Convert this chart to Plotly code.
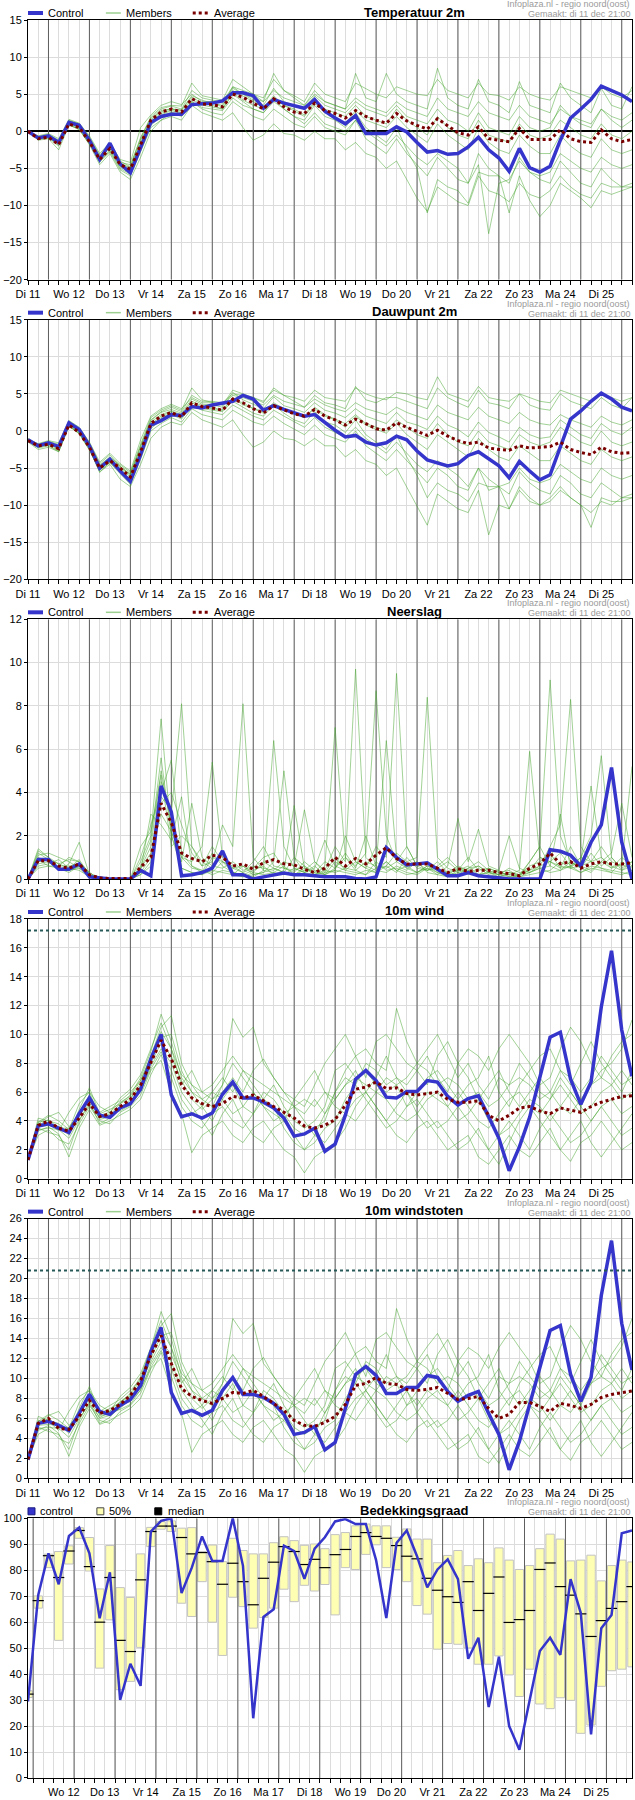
import plotly.graph_objects as go

# ---------------- time axis (6-hourly steps from Di 11 12:00) ----------------
steps = list(range(60))
day_labels = ["Di 11", "Wo 12", "Do 13", "Vr 14", "Za 15", "Zo 16", "Ma 17", "Di 18",
              "Wo 19", "Do 20", "Vr 21", "Za 22", "Zo 23", "Ma 24", "Di 25"]
label_pos = [0, 4, 8, 12, 16, 20, 24, 28, 32, 36, 40, 44, 48, 52, 56]
day_lines = [2, 6, 10, 14, 18, 22, 26, 30, 34, 38, 42, 46, 50, 54, 58]
cc_labels = ["Wo 12", "Do 13", "Vr 14", "Za 15", "Zo 16", "Ma 17", "Di 18",
             "Wo 19", "Do 20", "Vr 21", "Za 22", "Zo 23", "Ma 24", "Di 25"]
cc_label_pos = [3.5, 7.5, 11.5, 15.5, 19.5, 23.5, 27.5, 31.5, 35.5, 39.5, 43.5, 47.5, 51.5, 55.5]
cc_day_lines = [0.5, 4.5, 8.5, 12.5, 16.5, 20.5, 24.5, 28.5, 32.5, 36.5, 40.5, 44.5, 48.5, 52.5, 56.5]

# ---------------- Temperatuur 2m ----------------
temp_control = [0.0, -0.9, -0.6, -1.5, 1.2, 0.8, -1.2, -3.8, -1.6, -4.4, -5.6, -2.3, 1.2, 2.0, 2.3, 2.3, 3.6, 3.7, 3.8, 4.1,
                5.2, 5.2, 4.8, 3.1, 4.3, 3.8, 3.5, 3.1, 4.3, 2.7, 1.8, 1.0, 2.1, -0.3, -0.3, -0.3, 0.6, -0.1, -1.5, -2.8,
                -2.6, -3.1, -3.0, -2.1, -0.8, -2.5, -3.6, -5.4, -2.3, -4.9, -5.5, -4.7, -1.2, 1.8, 3.0, 4.3, 6.1, 5.5, 4.9, 4.0]
temp_average = [0.0, -1.0, -0.8, -1.8, 1.0, 0.5, -1.4, -3.8, -2.3, -4.5, -5.1, -1.8, 1.5, 2.6, 3.0, 2.6, 4.4, 3.7, 3.6, 3.3,
                5.0, 4.6, 3.8, 3.0, 4.4, 3.3, 2.6, 2.4, 3.8, 2.8, 2.4, 1.8, 2.8, 2.0, 1.5, 1.1, 2.4, 1.4, 0.8, 0.3,
                1.7, 0.7, -0.2, -0.5, 0.6, -1.0, -1.2, -1.4, 0.4, -1.1, -1.1, -1.1, 0.2, -1.0, -1.4, -1.5, 0.2, -1.0, -1.4, -1.1]
temp_m01 = [0, -0.7, -0.4, -1.2, 1.5, 1.0, -0.8, -3.2, -1.8, -4.0, -4.8, -0.8, 1.8, 3.0, 3.4, 3.0, 5.5, 4.5, 4.2, 4.0,
            6.0, 5.5, 5.0, 4.5, 7.0, 5.5, 4.8, 4.0, 6.5, 5.0, 4.5, 4.0, 6.5, 5.8, 5.0, 4.5, 6.0, 5.5, 5.0, 4.8,
            7.0, 5.5, 5.0, 4.5, 6.5, 5.0, 4.8, 4.2, 6.0, 5.0, 4.5, 4.2, 6.0, 5.5, 5.0, 4.5, 6.0, 5.0, 4.5, 5.5]
temp_m02 = [0, -1.2, -1.0, -2.5, 0.8, 0.3, -1.8, -4.5, -3.0, -5.5, -6.5, -3.5, 0.0, 1.5, 2.0, 1.5, 3.5, 2.5, 2.0, 1.5,
            2.5, 0.5, -1.2, -0.5, 1.0, -0.3, -0.5, -1.2, 0.0, -1.0, -1.0, -2.5, -1.5, -3.0, -3.5, -5.0, -4.0, -6.5, -9.0, -10.8,
            -7.5, -8.5, -9.5, -10.0, -6.0, -8.0, -8.5, -9.5, -7.0, -8.5, -9.0, -8.0, -6.0, -7.5, -8.5, -9.0, -7.0, -7.5, -7.5, -7.0]
temp_m03 = [0, -0.9, -0.7, -1.6, 1.2, 0.7, -1.3, -3.6, -2.2, -4.6, -5.2, -1.5, 1.5, 2.6, 3.1, 2.5, 4.3, 3.6, 3.8, 3.3,
            5.5, 4.8, 4.0, 3.2, 4.8, 3.5, 3.0, 2.2, 4.0, 3.0, 2.5, 2.0, 3.5, 2.0, 1.5, 1.0, 3.0, 1.5, 0.5, -0.5,
            2.0, 0.5, -0.5, -1.0, 1.5, -0.5, -1.0, -1.5, 1.0, -0.5, -1.0, -0.5, 1.5, 0.5, -0.5, -1.0, 1.0, -0.5, -1.0, 0.0]
temp_m04 = [0, -1.0, -0.8, -2.0, 0.9, 0.4, -1.6, -4.2, -2.6, -5.0, -5.8, -2.5, 0.8, 2.0, 2.6, 2.2, 4.0, 3.2, 3.0, 2.8,
            4.5, 3.5, 3.0, 2.5, 4.0, 3.0, 2.0, 1.0, 2.5, 1.0, 0.5, 0.0, 1.5, 0.0, -1.0, -2.0, -0.5, -2.0, -3.5, -4.5,
            -3.0, -4.0, -5.0, -7.0, -4.5, -13.8, -7.0, -6.5, -4.0, -5.5, -6.0, -5.5, -3.0, -4.0, -5.0, -5.5, -3.5, -4.5, -5.0, -4.5]
temp_m05 = [0, -0.8, -0.5, -1.4, 1.4, 0.9, -1.0, -3.4, -2.0, -4.2, -4.5, -1.0, 2.0, 3.2, 3.5, 3.4, 6.5, 4.8, 4.5, 4.2,
            7.0, 6.0, 5.0, 4.0, 7.8, 5.5, 4.5, 3.5, 5.5, 4.0, 3.5, 3.0, 7.8, 4.5, 4.0, 7.8, 5.0, 4.0, 3.5, 3.0,
            8.5, 4.5, 3.5, 3.0, 7.0, 4.0, 3.5, 2.5, 6.7, 3.5, 3.0, 2.5, 6.5, 4.5, 3.5, 2.5, 5.8, 3.5, 3.0, 6.0]
temp_m06 = [0, -1.1, -0.9, -1.9, 0.9, 0.2, -1.7, -4.0, -2.8, -5.2, -6.0, -2.8, 0.5, 1.5, 2.5, 2.0, 4.0, 3.0, 2.5, 2.2,
            4.0, 3.0, 2.0, 1.5, 3.0, 2.0, 1.0, 0.5, 2.0, 0.5, 0.0, -0.5, 1.5, -1.0, -2.0, -3.0, -1.0, -3.0, -4.5, -6.0,
            -3.5, -5.0, -6.5, -7.0, -3.0, -5.0, -6.0, -7.0, -3.5, -5.5, -6.5, -7.0, -4.0, -5.5, -7.0, -7.5, -5.0, -6.5, -7.5, -7.5]
temp_m07 = [0, -0.6, -0.3, -1.0, 1.6, 1.1, -0.6, -3.0, -1.5, -3.8, -4.2, 0.5, 2.2, 3.5, 4.0, 3.6, 5.0, 4.0, 4.0, 3.8,
            5.8, 5.0, 4.5, 4.0, 5.5, 4.5, 4.0, 3.5, 5.0, 4.0, 3.5, 3.0, 4.5, 3.5, 3.0, 2.5, 4.0, 3.0, 2.5, 2.0,
            4.5, 3.0, 2.5, 2.0, 4.0, 2.5, 2.0, 1.5, 3.5, 2.0, 1.5, 1.0, 3.0, 2.0, 1.5, 1.0, 3.0, 2.0, 1.5, 2.5]
temp_m08 = [0, -0.9, -0.6, -1.7, 1.1, 0.5, -1.5, -3.9, -2.5, -4.8, -5.5, -2.0, 1.0, 2.2, 2.8, 2.4, 3.8, 3.5, 3.3, 3.0,
            5.0, 4.0, 3.0, 2.5, 4.5, 3.0, 2.0, 1.5, 3.5, 2.0, 1.5, 0.5, 2.5, 0.5, -0.5, -1.5, 0.5, -2.5, -5.0, -11.0,
            -6.5, -7.5, -8.0, -9.7, -5.5, -6.0, -6.0, -11.0, -6.0, -9.3, -11.5, -10.0, -7.0, -8.0, -9.0, -10.3, -8.0, -8.5, -8.0, -7.5]
temp_m09 = [0, -1.0, -0.6, -1.5, 1.3, 0.8, -1.1, -3.7, -2.1, -4.4, -5.0, -1.8, 1.3, 2.4, 2.9, 2.8, 4.6, 3.8, 3.5, 3.0,
            5.2, 4.2, 3.5, 3.0, 4.5, 3.5, 2.8, 2.0, 3.8, 2.5, 2.0, 1.0, 2.8, 1.5, 1.0, 0.5, 2.0, 0.5, -0.5, -1.5,
            1.0, -0.5, -1.5, -2.5, 0.5, -1.5, -2.5, -3.0, -0.5, -2.0, -3.0, -3.0, -0.5, -2.0, -3.0, -3.5, -1.0, -2.5, -3.0, -2.5]
temp_m10 = [0, -0.8, -0.6, -1.3, 1.0, 0.6, -1.2, -3.5, -2.0, -4.3, -4.9, -1.2, 1.6, 2.8, 3.0, 2.9, 4.8, 4.2, 3.8, 3.5,
            6.0, 5.0, 4.2, 3.5, 5.8, 4.0, 3.5, 3.0, 4.8, 3.5, 3.0, 2.5, 4.0, 3.0, 2.5, 2.0, 3.5, 2.0, 1.5, 1.0,
            3.0, 1.5, 1.0, 0.0, 2.5, 0.5, 0.0, -0.5, 2.0, 0.5, 0.0, 0.5, 3.5, 2.0, 1.0, 0.5, 3.0, 1.5, 0.5, 1.5]

# ---------------- Dauwpunt 2m ----------------
dew_control = [-1.2, -2.0, -1.6, -2.1, 1.1, 0.2, -2.0, -5.0, -3.8, -5.4, -6.8, -3.2, 0.8, 1.4, 2.2, 2.1, 3.3, 3.1, 3.5, 3.8,
               4.0, 4.8, 4.3, 2.8, 3.4, 2.9, 2.5, 2.0, 2.2, 1.1, 0.1, -0.8, -0.6, -1.5, -1.9, -1.6, -0.7, -1.2, -2.7, -3.9,
               -4.3, -4.7, -4.4, -3.3, -2.8, -3.7, -4.7, -6.3, -4.1, -5.4, -6.6, -5.9, -2.2, 1.6, 2.7, 4.0, 5.1, 4.3, 3.2, 2.7]
dew_average = [-1.3, -2.0, -1.8, -2.4, 0.8, -0.2, -2.2, -5.0, -4.0, -5.0, -6.2, -2.8, 1.0, 2.0, 2.5, 1.9, 3.8, 3.3, 3.1, 2.8,
               4.3, 3.8, 3.0, 2.4, 3.4, 2.8, 2.3, 2.0, 2.9, 2.0, 1.5, 0.8, 1.6, 1.0, 0.3, 0.1, 1.1, 0.5, -0.1, -0.6,
               0.1, -0.7, -1.3, -1.7, -1.5, -2.3, -2.5, -2.6, -2.0, -2.3, -2.2, -2.1, -1.5, -2.5, -2.9, -3.2, -2.2, -2.8, -3.0, -2.9]
dew_m01 = [-1.0, -1.8, -1.4, -1.8, 1.3, 0.4, -1.6, -4.4, -3.2, -4.8, -5.8, -2.2, 1.5, 2.6, 3.2, 2.6, 4.8, 4.0, 4.0, 3.8,
           5.0, 4.8, 4.5, 4.0, 5.5, 4.8, 4.5, 4.0, 5.5, 4.5, 4.2, 4.0, 5.8, 5.0, 4.5, 4.2, 5.2, 5.0, 4.5, 4.2,
           7.3, 5.0, 4.5, 4.0, 6.0, 4.5, 4.2, 4.0, 5.0, 4.5, 4.0, 3.8, 5.5, 5.0, 4.5, 4.0, 5.0, 4.5, 4.0, 4.5]
dew_m02 = [-1.5, -2.5, -2.2, -2.8, 0.7, -0.3, -2.5, -5.5, -4.5, -6.5, -7.5, -4.5, -1.0, 0.5, 1.2, 0.8, 2.5, 1.5, 1.0, 0.5,
           1.5, -0.5, -2.2, -1.5, 0.0, -1.0, -1.2, -2.0, -1.0, -2.0, -2.0, -3.5, -2.5, -4.0, -4.5, -6.0, -5.0, -7.5, -10.0, -12.7,
           -8.5, -9.5, -10.5, -11.0, -8.0, -14.0, -10.0, -10.5, -8.0, -9.5, -10.0, -9.0, -7.5, -9.0, -10.0, -13.0, -9.0, -9.5, -9.5, -9.0]
dew_m03 = [-1.3, -2.0, -1.8, -2.4, 0.9, -0.1, -2.2, -5.0, -3.9, -5.0, -6.2, -2.8, 0.9, 2.0, 2.6, 1.9, 3.8, 3.2, 3.0, 2.8,
           4.2, 3.8, 3.0, 2.4, 3.6, 2.8, 2.3, 1.8, 3.2, 2.2, 1.6, 1.0, 2.2, 1.0, 0.5, 0.0, 1.5, 0.5, -0.5, -1.0,
           1.0, -0.5, -1.5, -2.0, 0.0, -1.5, -2.0, -2.5, -0.5, -1.5, -2.0, -1.5, 0.5, -0.5, -1.5, -2.0, 0.0, -1.5, -2.0, -1.5]
dew_m04 = [-1.4, -2.2, -1.9, -2.7, 0.6, -0.3, -2.4, -5.6, -4.2, -5.6, -7.0, -3.5, 0.3, 1.5, 2.2, 1.6, 3.4, 2.8, 2.5, 2.2,
           3.5, 2.8, 2.0, 1.5, 2.8, 2.0, 1.2, 0.5, 1.8, 0.5, -0.2, -0.8, 0.5, -1.0, -2.0, -3.0, -1.5, -3.0, -4.5, -5.5,
           -4.0, -5.0, -6.0, -7.5, -5.0, -8.0, -7.5, -7.0, -5.0, -6.5, -7.0, -6.5, -4.5, -5.5, -6.5, -7.0, -5.0, -6.0, -6.5, -6.0]
dew_m05 = [-1.1, -1.9, -1.5, -2.0, 1.2, 0.3, -1.8, -4.6, -3.5, -4.6, -5.6, -1.8, 1.8, 2.8, 3.4, 2.8, 5.8, 4.2, 3.8, 3.5,
           5.5, 5.0, 4.5, 3.8, 5.8, 4.8, 4.0, 3.2, 4.8, 3.8, 3.5, 3.0, 6.0, 4.2, 3.8, 4.5, 4.5, 4.0, 3.5, 3.0,
           5.8, 4.5, 3.8, 3.2, 5.5, 3.8, 3.5, 3.0, 5.0, 3.5, 3.0, 2.8, 5.0, 4.0, 3.5, 3.0, 4.5, 3.5, 3.0, 4.5]
dew_m06 = [-1.4, -2.3, -2.0, -2.8, 0.7, -0.4, -2.6, -5.3, -4.3, -5.8, -7.2, -3.8, 0.0, 1.0, 1.8, 1.2, 3.0, 2.2, 1.8, 1.5,
           2.8, 2.0, 1.2, 0.8, 2.0, 1.0, 0.2, -0.5, 0.8, -0.5, -1.0, -1.5, 0.0, -2.0, -3.0, -4.0, -2.5, -4.0, -5.5, -7.0,
           -5.0, -6.0, -7.5, -8.0, -5.0, -6.5, -7.5, -8.5, -5.5, -7.0, -8.0, -8.5, -6.0, -7.0, -8.5, -9.0, -7.0, -8.0, -9.0, -8.5]
dew_m07 = [-1.2, -1.7, -1.3, -1.6, 1.4, 0.5, -1.5, -4.2, -3.0, -4.4, -5.4, -1.2, 2.0, 3.0, 3.6, 3.0, 4.5, 3.8, 3.8, 3.5,
           4.8, 4.5, 4.0, 3.5, 4.8, 4.0, 3.6, 3.2, 4.3, 3.5, 3.0, 2.6, 3.8, 3.0, 2.6, 2.2, 3.2, 2.5, 2.0, 1.5,
           3.5, 2.5, 2.0, 1.5, 3.2, 2.0, 1.5, 1.0, 2.5, 1.5, 1.0, 0.8, 2.2, 1.5, 1.0, 0.5, 2.0, 1.2, 0.8, 1.5]
dew_m08 = [-1.3, -2.1, -1.7, -2.5, 0.8, -0.2, -2.3, -5.2, -4.0, -5.2, -6.5, -3.0, 0.6, 1.8, 2.4, 1.8, 3.3, 3.0, 2.8, 2.6,
           4.0, 3.2, 2.4, 2.0, 3.5, 2.4, 1.5, 1.0, 2.6, 1.2, 0.8, -0.2, 1.5, -0.5, -1.5, -2.5, -0.5, -3.5, -6.0, -9.0,
           -7.0, -8.0, -8.5, -9.5, -7.0, -7.5, -7.5, -10.5, -7.5, -9.0, -10.0, -9.5, -8.0, -9.0, -10.0, -11.0, -9.5, -10.0, -9.0, -9.0]
dew_m09 = [-1.2, -2.0, -1.6, -2.2, 1.0, 0.0, -2.0, -4.9, -3.8, -4.9, -6.0, -2.5, 1.2, 2.2, 2.7, 2.2, 4.0, 3.4, 3.2, 2.8,
           4.5, 3.5, 3.0, 2.6, 3.8, 3.0, 2.5, 1.8, 3.0, 2.0, 1.5, 0.5, 2.0, 0.8, 0.2, -0.3, 1.0, -0.5, -1.5, -2.5,
           -0.5, -1.5, -2.5, -3.5, -1.0, -2.5, -3.5, -4.0, -2.0, -3.0, -4.0, -4.0, -2.0, -3.0, -4.0, -4.5, -2.5, -3.5, -4.0, -3.5]
dew_m10 = [-1.1, -1.9, -1.6, -2.1, 1.1, 0.2, -1.9, -4.7, -3.6, -4.7, -5.9, -2.0, 1.4, 2.5, 2.9, 2.4, 4.3, 3.6, 3.5, 3.2,
           5.2, 4.2, 3.6, 3.0, 4.6, 3.4, 3.0, 2.5, 3.8, 2.8, 2.4, 1.8, 3.0, 2.0, 1.5, 1.0, 2.5, 1.2, 0.8, 0.2,
           2.0, 0.8, 0.2, -0.8, 1.2, -0.2, -0.8, -1.5, 0.5, -0.5, -1.0, -0.8, 1.5, 0.5, -0.5, -1.0, 1.0, 0.0, -0.5, 0.5]

# ---------------- Neerslag ----------------
rain_control = [0, 0.9, 0.9, 0.45, 0.45, 0.7, 0.1, 0.05, 0, 0, 0, 0.4, 0.15, 4.3, 3.1, 0.15, 0.2, 0.3, 0.5, 1.3,
                0.2, 0.2, 0.0, 0.1, 0.2, 0.28, 0.2, 0.2, 0.15, 0.1, 0.1, 0.1, 0.03, 0, 0.1, 1.45, 1.0, 0.65, 0.7, 0.75,
                0.45, 0.15, 0.15, 0.3, 0.15, 0.1, 0.03, 0, 0, 0, 0, 1.35, 1.28, 1.1, 0.6, 1.7, 2.5, 5.15, 1.7, 0]
rain_average = [0, 0.85, 0.85, 0.6, 0.5, 0.7, 0.2, 0.05, 0.02, 0.02, 0.02, 0.55, 1.0, 3.5, 2.6, 1.2, 0.95, 0.8, 1.1, 1.0,
                0.6, 0.7, 0.45, 0.75, 0.9, 0.7, 0.65, 0.45, 0.3, 0.5, 1.0, 0.6, 0.95, 0.7, 1.1, 1.45, 0.95, 0.7, 0.7, 0.7,
                0.5, 0.3, 0.48, 0.35, 0.4, 0.4, 0.3, 0.25, 0.15, 0.5, 0.7, 1.2, 0.7, 0.8, 0.5, 0.7, 0.8, 0.7, 0.7, 0.75]
rain_m01 = [0, 1.3, 1.0, 0.7, 0.5, 0.9, 0.2, 0, 0, 0, 0, 0.8, 2.0, 7.4, 2.0, 0.5, 0.3, 0.2, 1.0, 0.8,
            0.3, 0.2, 0.1, 0.4, 6.4, 1.5, 0.5, 0.3, 0.2, 0.6, 7.0, 1.0, 0.4, 0.2, 0.5, 0.8, 0.4, 0.6, 0.3, 0.5,
            0.3, 0.1, 0.4, 0.6, 0.2, 0.1, 0.1, 0.3, 0.2, 0.8, 1.5, 9.2, 2.0, 0.8, 0.5, 1.2, 0.6, 1.0, 0.4, 0.8]
rain_m02 = [0, 0.8, 0.9, 0.5, 0.4, 0.6, 0.1, 0, 0, 0, 0, 0.3, 1.0, 4.5, 3.0, 8.1, 1.5, 0.8, 0.5, 1.2,
            0.2, 0.1, 0.3, 0.8, 0.5, 0.3, 1.0, 0.6, 0.2, 0.4, 1.5, 0.8, 9.7, 1.0, 0.5, 0.6, 0.3, 1.0, 0.5, 0.4,
            0.8, 0.3, 0.2, 0.5, 0.6, 0.3, 0.1, 0.2, 0.4, 5.9, 1.0, 0.8, 0.5, 1.5, 0.6, 0.8, 1.0, 0.5, 0.7, 0.4]
rain_m03 = [0, 1.0, 0.8, 0.4, 0.7, 1.7, 0.2, 0.1, 0, 0, 0, 0.5, 1.5, 5.0, 2.5, 1.0, 0.8, 1.5, 5.4, 1.0,
            0.5, 0.3, 0.5, 1.0, 1.2, 0.5, 0.3, 0.8, 0.4, 0.2, 0.5, 1.0, 0.6, 1.2, 8.7, 2.0, 0.8, 0.5, 0.3, 0.6,
            0.5, 0.8, 0.4, 0.3, 0.2, 0.5, 0.3, 0.2, 0.1, 0.3, 0.6, 1.5, 2.5, 8.3, 1.5, 0.8, 0.5, 0.3, 0.8, 0.5]
rain_m04 = [0, 0.6, 0.7, 0.9, 0.5, 0.4, 0.1, 0, 0, 0, 0, 0.2, 0.8, 3.5, 4.0, 2.5, 1.2, 0.6, 0.8, 2.5,
            1.5, 8.1, 1.0, 0.4, 0.3, 0.6, 0.2, 0.4, 0.8, 0.3, 0.4, 2.0, 0.8, 0.5, 1.5, 1.0, 9.5, 1.5, 0.6, 0.8,
            0.4, 0.3, 0.6, 0.4, 0.2, 0.3, 0.4, 0.1, 0.2, 0.4, 1.0, 0.8, 0.6, 0.5, 1.0, 2.0, 5.7, 1.0, 0.5, 0.8]
rain_m05 = [0, 1.1, 1.2, 1.0, 0.8, 0.5, 0.3, 0, 0, 0, 0, 1.0, 2.5, 4.0, 5.5, 1.2, 0.6, 0.4, 0.3, 0.8,
            0.5, 0.6, 0.2, 0.3, 0.8, 5.0, 1.0, 0.3, 0.5, 1.8, 0.6, 0.4, 0.8, 0.5, 0.3, 0.6, 1.2, 0.8, 1.0, 8.4,
            1.0, 0.5, 0.3, 0.5, 0.8, 0.4, 0.2, 0.3, 0.2, 0.6, 0.8, 1.2, 0.5, 0.6, 1.0, 0.8, 1.5, 0.8, 0.6, 5.2]
rain_m06 = [0, 0.9, 0.6, 0.6, 1.0, 0.8, 0.2, 0, 0, 0, 0, 0.6, 1.8, 5.6, 2.0, 0.8, 3.5, 1.0, 0.6, 0.5,
            0.8, 0.4, 0.6, 0.5, 0.4, 0.8, 0.6, 3.2, 0.8, 0.4, 0.3, 0.5, 0.4, 0.8, 0.6, 6.4, 1.0, 0.5, 0.8, 0.4,
            0.6, 1.0, 0.5, 0.4, 0.6, 0.3, 0.2, 0.5, 0.3, 0.4, 0.6, 0.8, 1.2, 0.6, 0.8, 4.3, 1.0, 0.6, 0.4, 0.6]
rain_m07 = [0, 1.4, 1.0, 0.5, 0.3, 0.6, 0.1, 0, 0, 0, 0, 0.4, 3.0, 2.5, 1.8, 3.8, 0.6, 0.3, 1.2, 0.6,
            0.3, 0.2, 0.4, 0.6, 0.2, 0.4, 3.4, 0.5, 0.3, 0.2, 0.8, 0.5, 1.0, 0.6, 0.4, 0.3, 0.6, 0.4, 0.8, 0.3,
            0.2, 0.6, 2.8, 0.8, 2.3, 0.6, 0.4, 2.0, 0.5, 0.3, 0.5, 0.6, 0.4, 0.8, 0.5, 0.3, 0.8, 1.2, 3.5, 1.0]
rain_m08 = [0, 0.7, 0.8, 0.6, 0.6, 0.7, 0.1, 0, 0, 0, 0, 0.5, 1.2, 3.0, 2.2, 1.0, 0.5, 0.4, 0.2, 0.4,
            0.3, 0.1, 0.2, 0.3, 0.5, 0.3, 0.2, 0.5, 0.2, 0.3, 1.0, 0.4, 0.3, 0.2, 0.8, 0.4, 0.5, 0.3, 0.2, 0.5,
            0.2, 0.1, 0.3, 0.2, 0.5, 0.2, 0.1, 0.0, 0.2, 0.3, 0.5, 0.3, 0.4, 0.6, 0.3, 0.5, 0.4, 0.3, 0.2, 0.4]
rain_m09 = [0, 1.2, 0.9, 0.7, 0.9, 0.8, 0.3, 0, 0, 0, 0, 1.5, 2.2, 4.8, 1.5, 2.0, 1.5, 0.6, 1.5, 0.8,
            0.6, 0.3, 0.8, 1.5, 0.6, 0.5, 0.4, 0.6, 0.3, 0.8, 0.5, 1.2, 0.5, 2.0, 0.6, 0.5, 0.8, 1.5, 0.6, 0.4,
            0.5, 0.3, 0.4, 1.0, 0.4, 0.5, 0.3, 0.4, 0.1, 0.8, 1.5, 0.6, 3.0, 0.5, 0.6, 0.4, 0.8, 0.5, 1.0, 0.6]
rain_m10 = [0, 0.5, 0.6, 0.5, 0.4, 0.5, 0.1, 0, 0, 0, 0, 0.2, 0.6, 3.8, 3.2, 0.5, 0.3, 0.2, 0.4, 0.3,
            0.2, 0.6, 0.3, 0.2, 0.3, 0.2, 0.5, 0.3, 0.6, 0.2, 0.4, 0.3, 0.2, 0.4, 0.3, 0.8, 0.4, 0.2, 0.3, 0.6,
            0.3, 0.2, 0.5, 0.3, 0.2, 0.3, 0.2, 0.1, 0.1, 0.2, 0.3, 0.4, 0.8, 0.5, 0.3, 0.6, 0.5, 0.4, 0.3, 0.2]

# ---------------- 10m wind ----------------
wind_control = [1.3, 3.65, 3.8, 3.5, 3.2, 4.5, 5.6, 4.4, 4.25, 4.9, 5.2, 6.2, 8.3, 10.0, 5.8, 4.3, 4.5, 4.2, 4.55, 5.85,
                6.7, 5.6, 5.6, 5.3, 4.9, 4.2, 2.95, 3.1, 3.5, 1.9, 2.4, 4.4, 6.9, 7.5, 6.8, 5.65, 5.6, 6.05, 6.05, 6.8,
                6.7, 5.7, 5.1, 5.55, 5.75, 4.3, 2.8, 0.55, 2.2, 4.25, 6.95, 9.8, 10.15, 6.9, 5.15, 6.7, 11.9, 15.8, 10.3, 7.1]
wind_average = [1.3, 3.7, 4.0, 3.5, 3.3, 4.2, 5.2, 4.3, 4.5, 5.0, 5.5, 6.5, 8.0, 9.6, 8.3, 6.5, 5.6, 5.2, 5.0, 5.2,
                5.7, 5.6, 5.8, 5.4, 5.0, 4.6, 4.2, 3.65, 3.5, 3.7, 4.1, 5.1, 6.2, 6.35, 6.7, 6.25, 6.3, 5.9, 5.8, 5.9,
                6.0, 5.5, 5.3, 5.3, 5.4, 4.4, 4.0, 4.4, 4.9, 5.0, 4.7, 4.5, 4.9, 4.75, 4.6, 5.0, 5.3, 5.5, 5.7, 5.75]
wind_m01 = [1.3, 4.2, 4.0, 3.8, 3.0, 4.8, 6.3, 4.5, 4.8, 5.2, 5.8, 7.0, 8.8, 11.4, 9.5, 7.0, 6.0, 5.5, 5.0, 6.5,
            11.1, 9.8, 10.5, 8.0, 7.0, 6.0, 5.0, 4.5, 5.5, 4.5, 6.0, 7.5, 8.5, 9.0, 8.0, 7.5, 11.8, 9.5, 8.0, 9.0,
            10.0, 8.5, 7.0, 8.0, 6.5, 5.5, 7.0, 6.5, 8.0, 7.0, 6.0, 5.5, 7.0, 6.0, 5.0, 6.5, 7.5, 8.0, 9.0, 11.0]
wind_m02 = [1.3, 3.0, 3.4, 2.7, 2.4, 3.8, 5.0, 4.0, 3.8, 4.6, 5.0, 5.8, 7.5, 8.2, 6.0, 4.5, 1.8, 3.0, 3.5, 4.0,
            3.0, 2.5, 3.5, 4.0, 3.0, 2.0, 1.5, 0.4, 1.5, 2.0, 2.5, 3.5, 5.0, 6.0, 5.0, 4.0, 3.0, 2.5, 3.5, 4.0,
            3.0, 2.0, 2.5, 3.0, 1.5, 1.0, 2.0, 3.0, 2.0, 1.5, 2.5, 3.5, 2.0, 1.2, 2.5, 3.0, 4.0, 3.0, 2.0, 2.5]
wind_m03 = [1.3, 3.8, 4.3, 4.6, 3.6, 4.4, 5.6, 4.6, 5.0, 5.4, 6.0, 6.8, 8.5, 10.5, 11.3, 8.0, 6.5, 5.5, 6.0, 7.0,
            6.0, 7.5, 6.5, 5.5, 6.5, 5.0, 4.0, 3.5, 4.0, 5.0, 7.5, 8.0, 7.0, 6.5, 6.0, 7.0, 6.5, 5.0, 6.0, 7.0,
            7.5, 6.5, 5.5, 6.5, 7.0, 8.5, 6.0, 5.0, 6.5, 7.5, 8.5, 9.0, 7.5, 6.5, 8.0, 9.5, 8.0, 7.0, 6.0, 7.5]
wind_m04 = [1.3, 3.5, 3.2, 3.0, 2.0, 4.0, 5.3, 3.8, 4.2, 5.0, 5.3, 6.0, 7.8, 9.0, 8.0, 6.0, 5.0, 4.0, 3.0, 4.5,
            5.5, 4.0, 3.0, 2.5, 3.5, 4.0, 3.0, 2.0, 3.0, 4.5, 5.5, 6.5, 7.5, 6.0, 5.0, 4.0, 5.0, 6.0, 4.5, 3.5,
            4.0, 3.0, 2.0, 2.5, 3.5, 2.0, 1.0, 2.5, 4.0, 5.0, 4.0, 3.0, 2.0, 3.0, 4.0, 2.5, 1.5, 2.5, 3.5, 4.5]
wind_m05 = [1.3, 4.0, 3.9, 3.3, 4.6, 5.6, 6.0, 5.0, 4.6, 5.6, 6.2, 7.2, 9.0, 10.8, 9.0, 6.5, 7.5, 6.0, 5.5, 6.0,
            7.0, 6.0, 7.5, 8.3, 7.0, 6.0, 5.5, 5.0, 6.5, 8.0, 9.0, 10.0, 8.5, 7.0, 9.5, 10.0, 9.0, 8.0, 7.5, 8.5,
            7.0, 6.0, 8.0, 9.0, 8.5, 7.5, 9.0, 10.0, 9.0, 8.0, 6.5, 7.0, 9.0, 10.5, 9.5, 8.0, 7.0, 8.5, 9.5, 10.0]
wind_m06 = [1.3, 3.3, 3.6, 3.1, 1.5, 3.5, 4.8, 3.7, 4.0, 4.4, 4.8, 5.5, 7.2, 8.6, 7.0, 5.0, 4.0, 3.5, 4.5, 5.0,
            4.0, 3.5, 4.5, 5.5, 5.0, 3.5, 2.5, 2.0, 2.5, 3.5, 4.0, 5.5, 6.5, 5.5, 4.5, 3.5, 4.0, 5.0, 5.5, 4.5,
            3.5, 4.0, 5.0, 4.0, 3.0, 2.0, 3.0, 4.0, 3.0, 2.0, 3.5, 4.5, 3.5, 2.5, 3.0, 4.0, 5.0, 4.0, 3.0, 3.5]
wind_m07 = [1.3, 3.9, 4.4, 4.0, 3.4, 5.2, 6.0, 4.3, 4.4, 5.2, 5.6, 6.4, 8.2, 9.8, 10.0, 7.5, 6.0, 5.0, 4.0, 5.5,
            6.5, 5.0, 4.5, 6.0, 5.5, 4.5, 3.5, 3.0, 3.5, 4.0, 6.0, 7.0, 6.5, 8.0, 7.5, 6.5, 7.0, 6.0, 5.0, 6.0,
            5.5, 5.0, 6.0, 5.0, 4.0, 3.5, 4.5, 5.5, 6.0, 5.0, 4.5, 5.5, 6.5, 5.5, 4.5, 5.0, 6.0, 6.5, 5.5, 6.0]
wind_m08 = [1.3, 3.6, 3.7, 3.6, 3.2, 4.3, 5.5, 4.1, 4.3, 4.8, 5.5, 6.6, 8.0, 9.4, 8.5, 6.8, 5.5, 4.8, 5.5, 6.5,
            8.0, 7.0, 6.0, 5.0, 4.5, 4.0, 5.5, 6.5, 7.5, 6.0, 5.0, 4.5, 5.5, 6.0, 7.0, 8.5, 7.0, 6.5, 7.5, 6.5,
            8.5, 9.5, 8.0, 7.0, 5.5, 6.5, 7.5, 6.0, 5.0, 6.0, 7.0, 6.0, 5.0, 4.5, 5.5, 6.5, 7.0, 6.5, 7.5, 6.5]
wind_m09 = [1.3, 3.4, 3.5, 3.4, 2.8, 4.1, 5.1, 4.2, 4.5, 4.7, 5.1, 6.1, 7.6, 8.8, 7.5, 5.5, 4.5, 5.0, 6.0, 5.5,
            4.5, 5.0, 6.0, 5.0, 4.0, 4.5, 5.0, 4.0, 3.0, 2.5, 3.5, 4.5, 4.0, 5.0, 6.0, 5.5, 4.5, 4.0, 4.5, 5.5,
            6.0, 5.0, 4.0, 4.5, 5.5, 4.0, 3.0, 3.5, 4.5, 5.5, 5.0, 4.0, 5.0, 6.0, 5.0, 4.0, 5.0, 5.5, 4.5, 5.0]
wind_m10 = [1.3, 3.7, 4.1, 3.5, 3.5, 4.5, 5.8, 4.4, 4.6, 5.3, 5.7, 6.8, 8.4, 10.2, 9.0, 7.2, 6.5, 6.0, 6.5, 7.5,
            8.5, 7.5, 7.0, 6.5, 6.0, 5.5, 5.0, 5.5, 5.0, 6.0, 5.5, 6.5, 7.0, 7.5, 6.5, 6.0, 6.5, 7.0, 8.0, 7.5,
            6.5, 7.0, 6.5, 5.5, 6.0, 5.0, 5.5, 6.5, 7.0, 6.5, 5.5, 6.0, 7.5, 7.0, 6.0, 7.0, 8.5, 7.5, 6.5, 7.0]

# ---------------- 10m windstoten ----------------
gust_control = [1.85, 5.5, 5.7, 5.3, 4.8, 6.5, 8.4, 6.7, 6.4, 7.3, 7.9, 9.3, 12.7, 15.1, 8.6, 6.5, 6.8, 6.3, 6.8, 8.8,
                10.1, 8.4, 8.4, 8.1, 7.5, 6.4, 4.4, 4.6, 5.2, 2.85, 3.6, 7.0, 10.4, 11.2, 10.3, 8.5, 8.5, 9.1, 9.1, 10.3,
                10.1, 8.7, 7.7, 8.3, 8.7, 6.5, 4.4, 0.85, 3.7, 7.4, 11.0, 14.8, 15.3, 10.4, 7.7, 10.1, 18.3, 23.8, 15.5, 10.85]
gust_average = [1.9, 5.5, 6.0, 5.0, 4.9, 6.2, 7.8, 6.5, 6.8, 7.4, 8.3, 9.8, 12.3, 14.3, 11.5, 9.0, 8.2, 7.8, 7.5, 8.0,
                8.6, 8.5, 8.8, 8.2, 7.5, 6.8, 5.8, 5.3, 5.2, 5.6, 6.2, 7.4, 9.3, 9.5, 10.1, 9.5, 9.4, 8.9, 8.8, 8.9,
                9.1, 8.5, 7.9, 8.0, 8.2, 7.0, 6.0, 6.4, 7.6, 7.6, 7.2, 6.7, 7.5, 7.3, 7.0, 7.4, 8.1, 8.4, 8.6, 8.75]
gust_m01 = [1.9, 6.2, 5.8, 5.5, 4.5, 7.0, 9.2, 6.5, 7.0, 7.6, 8.5, 10.2, 13.0, 16.7, 14.0, 10.2, 8.8, 8.0, 7.3, 9.5,
            16.0, 14.5, 15.5, 11.5, 10.2, 8.8, 7.3, 6.5, 8.0, 6.5, 8.8, 11.0, 12.5, 13.2, 11.7, 11.0, 17.0, 14.0, 11.7, 13.2,
            14.5, 12.5, 10.2, 11.7, 9.5, 8.0, 10.2, 9.5, 11.7, 10.2, 8.8, 8.0, 10.2, 8.8, 7.3, 9.5, 11.0, 11.7, 13.2, 16.0]
gust_m02 = [1.9, 4.4, 5.0, 4.0, 3.5, 5.5, 7.3, 5.8, 5.5, 6.7, 7.3, 8.5, 11.0, 12.0, 8.8, 6.5, 2.6, 4.4, 5.1, 5.8,
            4.4, 3.6, 5.1, 5.8, 4.4, 2.9, 2.2, 0.6, 2.2, 2.9, 3.6, 5.1, 7.3, 8.8, 7.3, 5.8, 4.4, 3.6, 5.1, 5.8,
            4.4, 2.9, 3.6, 4.4, 2.2, 1.5, 2.9, 4.4, 2.9, 2.2, 3.6, 5.1, 2.9, 1.8, 3.6, 4.4, 5.8, 4.4, 2.9, 3.6]
gust_m03 = [1.9, 5.5, 6.3, 6.7, 5.3, 6.4, 8.2, 6.7, 7.3, 7.9, 8.8, 9.9, 12.4, 15.3, 16.5, 11.7, 9.5, 8.0, 8.8, 10.2,
            8.8, 11.0, 9.5, 8.0, 9.5, 7.3, 5.8, 5.1, 5.8, 7.3, 11.0, 11.7, 10.2, 9.5, 8.8, 10.2, 9.5, 7.3, 8.8, 10.2,
            11.0, 9.5, 8.0, 9.5, 10.2, 12.4, 8.8, 7.3, 9.5, 11.0, 12.4, 13.2, 11.0, 9.5, 11.7, 13.9, 11.7, 10.2, 8.8, 11.0]
gust_m04 = [1.9, 5.1, 4.7, 4.4, 2.9, 5.8, 7.7, 5.5, 6.1, 7.3, 7.7, 8.8, 11.4, 13.1, 11.7, 8.8, 7.3, 5.8, 4.4, 6.6,
            8.0, 5.8, 4.4, 3.6, 5.1, 5.8, 4.4, 2.9, 4.4, 6.6, 8.0, 9.5, 11.0, 8.8, 7.3, 5.8, 7.3, 8.8, 6.6, 5.1,
            5.8, 4.4, 2.9, 3.6, 5.1, 2.9, 1.5, 3.6, 5.8, 7.3, 5.8, 4.4, 2.9, 4.4, 5.8, 3.6, 2.2, 3.6, 5.1, 6.6]
gust_m05 = [1.9, 5.8, 5.7, 4.8, 6.7, 8.2, 8.8, 7.3, 6.7, 8.2, 9.1, 10.5, 13.1, 15.8, 13.1, 9.5, 11.0, 8.8, 8.0, 8.8,
            10.2, 8.8, 11.0, 12.1, 10.2, 8.8, 8.0, 7.3, 9.5, 11.7, 13.1, 14.6, 12.4, 10.2, 13.9, 14.6, 13.1, 11.7, 11.0, 12.4,
            10.2, 8.8, 11.7, 13.1, 12.4, 11.0, 13.1, 14.6, 13.1, 11.7, 9.5, 10.2, 13.1, 15.3, 13.9, 11.7, 10.2, 12.4, 13.9, 14.6]
gust_m06 = [1.9, 4.8, 5.3, 4.5, 2.2, 5.1, 7.0, 5.4, 5.8, 6.4, 7.0, 8.0, 10.5, 12.6, 10.2, 7.3, 5.8, 5.1, 6.6, 7.3,
            5.8, 5.1, 6.6, 8.0, 7.3, 5.1, 3.6, 2.9, 3.6, 5.1, 5.8, 8.0, 9.5, 8.0, 6.6, 5.1, 5.8, 7.3, 8.0, 6.6,
            5.1, 5.8, 7.3, 5.8, 4.4, 2.9, 4.4, 5.8, 4.4, 2.9, 5.1, 6.6, 5.1, 3.6, 4.4, 5.8, 7.3, 5.8, 4.4, 5.1]
gust_m07 = [1.9, 5.7, 6.4, 5.8, 5.0, 7.6, 8.8, 6.3, 6.4, 7.6, 8.2, 9.3, 12.0, 14.3, 14.6, 11.0, 8.8, 7.3, 5.8, 8.0,
            9.5, 7.3, 6.6, 8.8, 8.0, 6.6, 5.1, 4.4, 5.1, 5.8, 8.8, 10.2, 9.5, 11.7, 11.0, 9.5, 10.2, 8.8, 7.3, 8.8,
            8.0, 7.3, 8.8, 7.3, 5.8, 5.1, 6.6, 8.0, 8.8, 7.3, 6.6, 8.0, 9.5, 8.0, 6.6, 7.3, 8.8, 9.5, 8.0, 8.8]
gust_m08 = [1.9, 5.3, 5.4, 5.3, 4.7, 6.3, 8.0, 6.0, 6.3, 7.0, 8.0, 9.6, 11.7, 13.7, 12.4, 9.9, 8.0, 7.0, 8.0, 9.5,
            11.7, 10.2, 8.8, 7.3, 6.6, 5.8, 8.0, 9.5, 11.0, 8.8, 7.3, 6.6, 8.0, 8.8, 10.2, 12.4, 10.2, 9.5, 11.0, 9.5,
            12.4, 13.9, 11.7, 10.2, 8.0, 9.5, 11.0, 8.8, 7.3, 8.8, 10.2, 8.8, 7.3, 6.6, 8.0, 9.5, 10.2, 9.5, 11.0, 9.5]
gust_m09 = [1.9, 5.0, 5.1, 5.0, 4.1, 6.0, 7.4, 6.1, 6.6, 6.9, 7.4, 8.9, 11.1, 12.8, 11.0, 8.0, 6.6, 7.3, 8.8, 8.0,
            6.6, 7.3, 8.8, 7.3, 5.8, 6.6, 7.3, 5.8, 4.4, 3.6, 5.1, 6.6, 5.8, 7.3, 8.8, 8.0, 6.6, 5.8, 6.6, 8.0,
            8.8, 7.3, 5.8, 6.6, 8.0, 5.8, 4.4, 5.1, 6.6, 8.0, 7.3, 5.8, 7.3, 8.8, 7.3, 5.8, 7.3, 8.0, 6.6, 7.3]
gust_m10 = [1.9, 5.4, 6.0, 5.1, 5.1, 6.6, 8.5, 6.4, 6.7, 7.7, 8.3, 9.9, 12.3, 14.9, 13.1, 10.5, 9.5, 8.8, 9.5, 11.0,
            12.4, 11.0, 10.2, 9.5, 8.8, 8.0, 7.3, 8.0, 7.3, 8.8, 8.0, 9.5, 10.2, 11.0, 9.5, 8.8, 9.5, 10.2, 11.7, 11.0,
            9.5, 10.2, 9.5, 8.0, 8.8, 7.3, 8.0, 9.5, 10.2, 9.5, 8.0, 8.8, 11.0, 10.2, 8.8, 10.2, 12.4, 11.0, 9.5, 10.2]

# threshold lines (wind / gust)
wind_threshold = 17.2
gust_threshold = 20.8

# ---------------- Bedekkingsgraad ----------------
cloud_control = [29.5, 70.5, 86.5, 74.6, 93.2, 96.4, 86.5, 61.5, 79.2, 30.1, 44.0, 35.5, 94.9, 99.0, 100.0, 71.2, 81.0, 93.0, 83.6, 83.6,
                 100.0, 81.7, 23.0, 62.0, 65.0, 89.5, 87.4, 76.7, 88.3, 92.7, 98.8, 99.7, 97.8, 97.8, 83.9, 61.6, 90.5, 95.3, 85.4, 73.4,
                 80.3, 84.2, 76.6, 45.9, 54.0, 27.3, 46.7, 20.0, 10.9, 29.9, 48.9, 54.0, 47.4, 76.6, 63.5, 16.8, 57.7, 62.8, 94.2, 95.3]
cloud_p75 = [33.6, 70.1, 86.2, 87.2, 89.4, 96.4, 92.6, 72.8, 89.5, 73.3, 69.5, 86.3, 96.5, 98.7, 99.0, 96.2, 96.4, 87.2, 89.7, 83.3,
             92.3, 87.6, 86.3, 86.3, 90.6, 92.9, 91.4, 89.6, 90.1, 88.3, 93.7, 94.5, 97.1, 97.8, 97.1, 97.1, 92.7, 95.9, 92.0, 92.0,
             82.9, 85.7, 87.6, 81.8, 84.4, 82.9, 88.6, 83.9, 80.3, 81.8, 88.3, 93.9, 92.0, 83.6, 83.9, 85.8, 75.9, 81.8, 83.9, 83.2]
cloud_p25 = [31.0, 65.4, 81.0, 53.0, 82.4, 92.3, 79.7, 42.3, 60.9, 34.0, 37.2, 50.3, 89.1, 95.8, 94.9, 67.3, 62.2, 75.6, 60.0, 47.2,
             69.6, 66.0, 57.7, 61.8, 65.4, 72.7, 67.9, 74.2, 72.0, 74.5, 62.8, 81.0, 80.3, 86.1, 89.8, 81.0, 80.3, 75.6, 66.4, 63.1,
             49.6, 51.8, 51.5, 50.1, 43.8, 43.8, 47.0, 39.7, 31.4, 41.9, 28.5, 26.7, 30.9, 29.9, 17.2, 20.4, 35.3, 41.3, 41.9, 42.8]
cloud_median = [32.3, 68.3, 85.6, 77.2, 87.4, 95.3, 81.4, 60.0, 77.2, 53.0, 48.7, 76.3, 94.9, 97.0, 97.0, 92.6, 86.3, 86.8, 83.3, 74.6,
                82.7, 75.6, 66.7, 76.9, 83.1, 89.1, 87.2, 82.2, 84.2, 81.0, 86.0, 88.0, 93.0, 94.5, 93.0, 92.3, 89.5, 85.4, 84.4, 76.9,
                72.3, 69.8, 67.6, 75.6, 64.5, 71.1, 77.4, 59.9, 61.0, 64.5, 80.3, 82.8, 73.7, 70.4, 63.2, 54.5, 60.6, 65.3, 67.9, 73.7]

# ---------------- styling / layout ----------------
W, H = 635, 1800
ML, MR, MT, MB = 28, 2, 20, 20
PW, PH = W - ML - MR, H - MT - MB
FONT = "Liberation Sans, Arial, sans-serif"
CTRL_COLOR = "#3535cc"
AVG_COLOR = "#7a0000"
MEMBER_COLOR = "rgba(70,165,45,0.5)"
LIGHT_GRID = "#dcdcdc"
DAY_LINE = "#5e5e5e"
panel_tops = [20, 320, 620, 920, 1220, 1520]
PANEL_H = 260


def fx(px):
    return (px - ML) / PW


def fy(py):
    return 1 - (py - MT) / PH


panels = [
    dict(title="Temperatuur 2m", control=temp_control, average=temp_average,
         members=[temp_m01, temp_m02, temp_m03, temp_m04, temp_m05, temp_m06, temp_m07, temp_m08, temp_m09, temp_m10],
         yrange=[-20, 15], dtick=5, zero=True, threshold=None),
    dict(title="Dauwpunt 2m", control=dew_control, average=dew_average,
         members=[dew_m01, dew_m02, dew_m03, dew_m04, dew_m05, dew_m06, dew_m07, dew_m08, dew_m09, dew_m10],
         yrange=[-20, 15], dtick=5, zero=False, threshold=None),
    dict(title="Neerslag", control=rain_control, average=rain_average,
         members=[rain_m01, rain_m02, rain_m03, rain_m04, rain_m05, rain_m06, rain_m07, rain_m08, rain_m09, rain_m10],
         yrange=[0, 12], dtick=2, zero=False, threshold=None),
    dict(title="10m wind", control=wind_control, average=wind_average,
         members=[wind_m01, wind_m02, wind_m03, wind_m04, wind_m05, wind_m06, wind_m07, wind_m08, wind_m09, wind_m10],
         yrange=[0, 18], dtick=2, zero=False, threshold=wind_threshold),
    dict(title="10m windstoten", control=gust_control, average=gust_average,
         members=[gust_m01, gust_m02, gust_m03, gust_m04, gust_m05, gust_m06, gust_m07, gust_m08, gust_m09, gust_m10],
         yrange=[0, 26], dtick=2, zero=False, threshold=gust_threshold),
]

fig = go.Figure()
shapes = []
annotations = []
layout_axes = {}


def axis_names(i):
    n = "" if i == 0 else str(i + 1)
    return "xaxis" + n, "yaxis" + n, "x" + n, "y" + n


def add_day_lines(positions, yrange, xr, yr):
    xs, ys = [], []
    for d in positions:
        xs += [d, d, None]
        ys += [yrange[0], yrange[1], None]
    fig.add_trace(go.Scatter(x=xs, y=ys, mode="lines", line=dict(color=DAY_LINE, width=1),
                             xaxis=xr, yaxis=yr, hoverinfo="skip"))


def add_header(i, title):
    top = panel_tops[i]
    annotations.append(dict(x=fx(415), y=fy(top - 8), xref="paper", yref="paper", text="<b>%s</b>" % title,
                            showarrow=False, xanchor="center", yanchor="middle",
                            font=dict(family=FONT, size=13, color="black")))
    annotations.append(dict(x=fx(633), y=fy(top - 16), xref="paper", yref="paper",
                            text="Infoplaza.nl - regio noord(oost)", showarrow=False, xanchor="right",
                            yanchor="middle", font=dict(family=FONT, size=9, color="#9a9a9a")))
    annotations.append(dict(x=fx(633), y=fy(top - 6), xref="paper", yref="paper",
                            text="Gemaakt: di 11 dec 21:00", showarrow=False, xanchor="right",
                            yanchor="middle", font=dict(family=FONT, size=9, color="#9a9a9a")))


def legend_text(x, y, text):
    annotations.append(dict(x=fx(x), y=fy(y), xref="paper", yref="paper", text=text, showarrow=False,
                            xanchor="left", yanchor="middle", font=dict(family=FONT, size=11, color="black")))


def x_axis(xr_anchor, tickvals, ticktext, minor0):
    return dict(domain=[0, 1], anchor=xr_anchor, range=[0, 59], tickmode="array", tickvals=tickvals,
                ticktext=ticktext, ticks="outside", ticklen=4, tickcolor="black",
                showgrid=True, gridcolor=LIGHT_GRID, gridwidth=1, zeroline=False,
                showline=True, linecolor="black", linewidth=1, mirror=True,
                tickfont=dict(family=FONT, size=11, color="black"),
                minor=dict(tickmode="linear", tick0=minor0, dtick=1, ticks="outside", ticklen=4,
                           tickcolor="black", showgrid=True, gridcolor=LIGHT_GRID, gridwidth=1))


def y_axis(xr_anchor, top, yrange, dtick, zero):
    return dict(domain=[fy(top + PANEL_H), fy(top)], anchor=xr_anchor, range=yrange, dtick=dtick,
                tick0=0, ticks="outside", ticklen=3, tickcolor="black", showgrid=True,
                gridcolor=LIGHT_GRID, gridwidth=1, showline=True, linecolor="black", linewidth=1,
                mirror=True, zeroline=zero, zerolinecolor="black", zerolinewidth=2,
                tickfont=dict(family=FONT, size=11, color="black"))


for i, p in enumerate(panels):
    xa, ya, xr, yr = axis_names(i)
    top = panel_tops[i]
    layout_axes[xa] = x_axis(yr, label_pos, day_labels, 0)
    layout_axes[ya] = y_axis(xr, top, p["yrange"], p["dtick"], p["zero"])
    add_day_lines(day_lines, p["yrange"], xr, yr)
    for m in p["members"]:
        fig.add_trace(go.Scatter(x=steps, y=m, mode="lines", line=dict(color=MEMBER_COLOR, width=1),
                                 xaxis=xr, yaxis=yr, hoverinfo="skip"))
    fig.add_trace(go.Scatter(x=steps, y=p["control"], mode="lines", line=dict(color=CTRL_COLOR, width=3.5),
                             xaxis=xr, yaxis=yr))
    fig.add_trace(go.Scatter(x=steps, y=p["average"], mode="lines",
                             line=dict(color=AVG_COLOR, width=3, dash="dot"), xaxis=xr, yaxis=yr))
    if p["threshold"] is not None:
        shapes.append(dict(type="line", xref=xr + " domain", yref=yr, x0=0, x1=1, y0=p["threshold"],
                           y1=p["threshold"], line=dict(color="#265858", width=2, dash="dot"), layer="above"))
    add_header(i, p["title"])
    ly = top - 7
    shapes.append(dict(type="line", xref="paper", yref="paper", x0=fx(28), x1=fx(43), y0=fy(ly), y1=fy(ly),
                       line=dict(color=CTRL_COLOR, width=4)))
    legend_text(46, ly, "Control")
    shapes.append(dict(type="line", xref="paper", yref="paper", x0=fx(106), x1=fx(121), y0=fy(ly), y1=fy(ly),
                       line=dict(color="rgba(90,175,70,0.6)", width=1.5)))
    legend_text(124, ly, "Members")
    shapes.append(dict(type="line", xref="paper", yref="paper", x0=fx(193), x1=fx(208), y0=fy(ly), y1=fy(ly),
                       line=dict(color=AVG_COLOR, width=3, dash="dot")))
    legend_text(212, ly, "Average")

# ---------------- panel 6 : Bedekkingsgraad ----------------
i = 5
xa, ya, xr, yr = axis_names(i)
top = panel_tops[i]
layout_axes[xa] = x_axis(yr, cc_label_pos, cc_labels, 0.5)
layout_axes[ya] = y_axis(xr, top, [0, 100], 10, False)
add_day_lines(cc_day_lines, [0, 100], xr, yr)
fig.add_trace(go.Bar(x=steps, y=[hi - lo for hi, lo in zip(cloud_p75, cloud_p25)], base=cloud_p25, width=0.82,
                     marker=dict(color="#ffffb4", line=dict(color="#c2c2c2", width=1)), xaxis=xr, yaxis=yr))
fig.add_trace(go.Scatter(x=steps, y=cloud_median, mode="markers",
                         marker=dict(symbol="line-ew", size=8, line=dict(color="black", width=1.2)),
                         xaxis=xr, yaxis=yr))
fig.add_trace(go.Scatter(x=steps, y=cloud_control, mode="lines", line=dict(color=CTRL_COLOR, width=2.5),
                         xaxis=xr, yaxis=yr))
add_header(i, "Bedekkingsgraad")
ly = top - 7
shapes.append(dict(type="rect", xref="paper", yref="paper", x0=fx(28), x1=fx(35), y0=fy(ly + 3.5), y1=fy(ly - 3.5),
                   line=dict(color="#1a1a80", width=1), fillcolor=CTRL_COLOR))
legend_text(38, ly, "control")
shapes.append(dict(type="rect", xref="paper", yref="paper", x0=fx(97), x1=fx(104), y0=fy(ly + 3.5), y1=fy(ly - 3.5),
                   line=dict(color="#444444", width=1), fillcolor="#ffffb4"))
legend_text(107, ly, "50%")
shapes.append(dict(type="rect", xref="paper", yref="paper", x0=fx(155), x1=fx(162), y0=fy(ly + 3.5), y1=fy(ly - 3.5),
                   line=dict(color="black", width=1), fillcolor="black"))
legend_text(166, ly, "median")

fig.update_layout(width=W, height=H, margin=dict(l=ML, r=MR, t=MT, b=MB, pad=0),
                  paper_bgcolor="white", plot_bgcolor="white", showlegend=False, hovermode=False,
                  shapes=shapes, annotations=annotations, **layout_axes)

fig.write_html("out.html", config={"displayModeBar": False, "staticPlot": True},
               post_script="document.body.style.margin='0px';")
